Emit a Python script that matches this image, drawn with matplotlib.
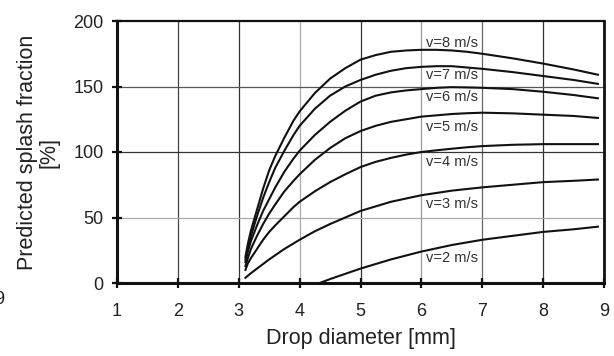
import matplotlib
matplotlib.use("Agg")
import matplotlib.pyplot as plt

plt.rcParams['font.family'] = ['Liberation Sans', 'DejaVu Sans']

# Data
x_hi = [3.11, 3.15, 3.2, 3.3, 3.4, 3.5, 3.6, 3.75, 3.9, 4.0, 4.25, 4.5, 4.75,
        5.0, 5.25, 5.5, 5.75, 6.0, 6.25, 6.5, 6.75, 7.0, 7.5, 8.0, 8.5, 8.9]
v8 = [20, 30, 40, 56, 72, 86, 97, 111, 124, 131, 145, 156, 164,
      170.5, 174, 176.5, 177.5, 178, 178, 177.5, 176.5, 175, 171.5, 167.5, 163, 159]
v7 = [18, 27, 36, 51, 65, 77, 88, 101, 113, 120, 133, 143, 150,
      155, 159, 162, 164, 165, 165.5, 165.5, 164.5, 163.5, 161, 158, 155, 152]
v6 = [16, 24, 32, 44, 55, 64, 73, 85, 95, 101, 113, 123, 131.5,
      138.5, 143, 145.5, 147, 148, 149, 149.5, 149.3, 149, 148, 146, 143.5, 141]
v5 = [13, 19, 26, 36, 45, 53, 60, 70, 78, 83, 94, 103, 110.5,
      116, 120, 123, 125, 127, 128, 129, 129.6, 130, 129.5, 128.5, 127.5, 126]
v4 = [10, 15, 19, 26, 33, 39, 44, 51, 58, 62, 70, 77, 83,
      88.5, 92.5, 95.5, 98, 100, 101.3, 102.5, 103.6, 104.5, 105.5, 106, 106, 106]
x_v3 = [3.11, 3.2, 3.3, 3.4, 3.5, 3.75, 4.0, 4.25, 4.5, 4.75, 5.0, 5.5, 6.0,
        6.5, 7.0, 7.5, 8.0, 8.5, 8.9]
v3 = [4, 7.5, 11, 14.5, 18, 26, 33, 39.5, 45, 50, 55, 62, 67,
      70.5, 73, 75, 77, 78, 79]
x_v2 = [4.33, 4.5, 4.75, 5.0, 5.5, 6.0, 6.5, 7.0, 7.5, 8.0, 8.5, 8.9]
v2 = [0, 3, 7, 11, 18, 24, 29, 33, 36, 39, 41, 43]

curves = [(x_hi, v8), (x_hi, v7), (x_hi, v6), (x_hi, v5), (x_hi, v4), (x_v3, v3), (x_v2, v2)]
labels = ["v=8 m/s", "v=7 m/s", "v=6 m/s", "v=5 m/s", "v=4 m/s", "v=3 m/s", "v=2 m/s"]
label_y = [183, 158.5, 141.7, 119, 92, 60, 19]
label_x = 6.07

x_ticks = [1, 2, 3, 4, 5, 6, 7, 8, 9]
y_ticks = [0, 50, 100, 150, 200]

fig = plt.figure(figsize=(6.14, 3.56), dpi=100)
ax = fig.add_axes([117/614, 1-283/356, (604-117)/614, (283-21)/356])

# grid lines (scan-like varying shades)
vcols = {2: '#444444', 3: '#333333', 4: '#aaaaaa', 5: '#333333', 6: '#999999', 7: '#666666', 8: '#333333'}
for xv, c in vcols.items():
    ax.axvline(xv, color=c, lw=0.9, zorder=1)
hcols = {50: '#aaaaaa', 100: '#333333', 150: '#555555'}
for yv, c in hcols.items():
    ax.axhline(yv, color=c, lw=0.9, zorder=1)

for xs, ys in curves:
    ax.plot(xs, ys, color='#111111', lw=1.5, zorder=3, solid_joinstyle='round')

for lab, ly in zip(labels, label_y):
    ax.text(label_x, ly, lab, fontsize=10.5, color='#333333', ha='left', va='center', zorder=4)

ax.set_xlim(1, 9)
ax.set_ylim(0, 200)
ax.set_xticks(x_ticks)
ax.set_yticks(y_ticks)
ax.tick_params(axis='both', direction='inout', length=7, width=1.6, labelsize=13, colors='#111111')
ax.tick_params(axis='x', pad=11)
ax.tick_params(axis='y', pad=6)
for t in ax.get_xticklabels() + ax.get_yticklabels():
    t.set_color('#222222')

ax.spines['left'].set_linewidth(2.2)
ax.spines['bottom'].set_linewidth(2.2)
ax.spines['top'].set_linewidth(1.6)
ax.spines['right'].set_linewidth(2.0)
for sp in ax.spines.values():
    sp.set_color('#111111')
    sp.set_zorder(5)

ax.set_xlabel("Drop diameter [mm]", fontsize=15.5, color='#222222', labelpad=6)
ax.set_ylabel("Predicted splash fraction\n[%]", fontsize=15.5, color='#222222', labelpad=10, linespacing=1.05)

fig.text(4/614, 1-300/356, "9", fontsize=13, ha='right', va='center', color='#222222')

fig.savefig("out.png", dpi=100)
